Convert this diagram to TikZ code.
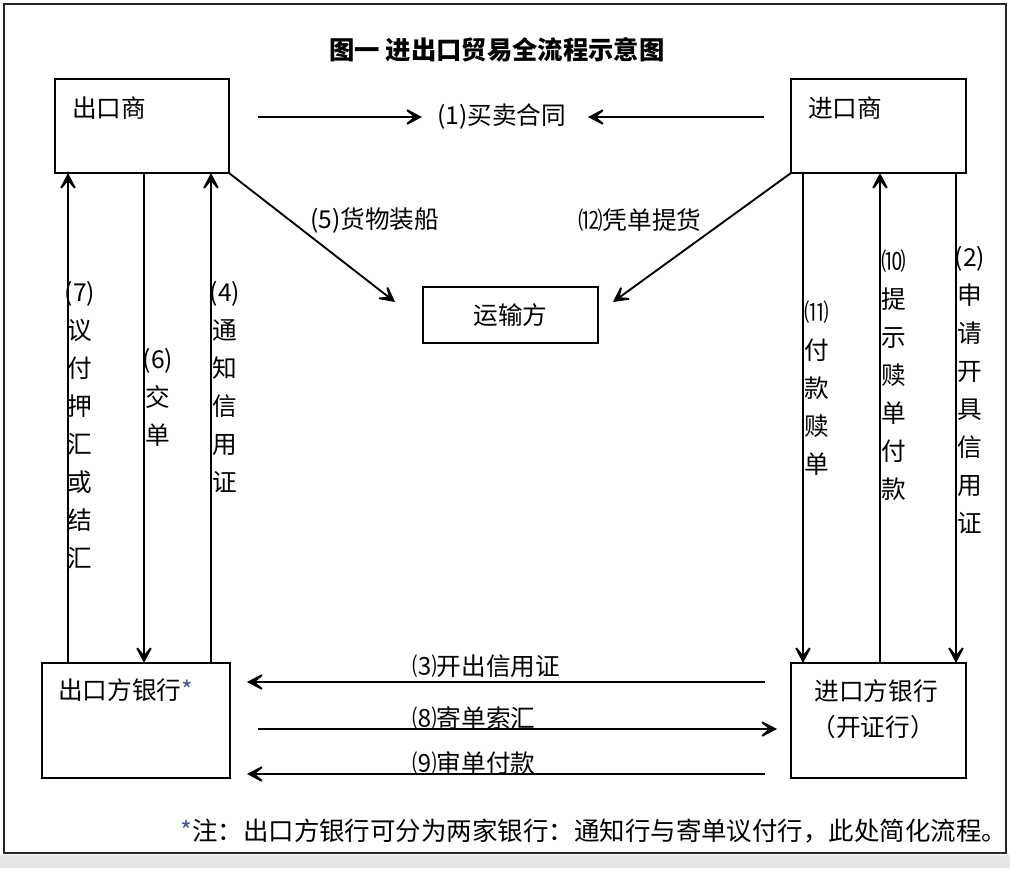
\documentclass[tikz,border=0pt]{standalone}
\usepackage{fontspec}
\setmainfont{Noto Sans CJK SC}
\usetikzlibrary{arrows.meta,calc}
\definecolor{astc}{RGB}{70,90,140}
\definecolor{band}{RGB}{230,228,228}
\begin{document}
\begin{tikzpicture}[x=0.75pt,y=-0.75pt,
  bx/.style={draw, line width=1.4pt, inner sep=0pt, outer sep=0pt},
  arr/.style={-{Stealth[length=17pt,width=18pt,inset=11pt]}, line width=1.4pt},
  lbl/.style={inner sep=0pt, font=\fontsize{18.5}{28.5}\selectfont},
  vlbl/.style={lbl, align=center, anchor=north},
  hlbl/.style={lbl, anchor=west}]
\useasboundingbox (0,0) rectangle (1010,868);
\fill[white] (0,0) rectangle (1010,868);
\fill[band] (0,855) rectangle (1010,868);
\draw[line width=1.4pt, black!85] (4,4) rectangle (1006,853);

% title
\node[inner sep=0pt, font=\fontsize{19}{22}\selectfont\bfseries] (title) at (497,50) {图一\ 进出口贸易全流程示意图};

% boxes
\node[bx, minimum width=130.5pt, minimum height=70.5pt] (exp) at (142,126) {};
\node[bx, minimum width=131.25pt, minimum height=70.5pt] (imp) at (878.5,126) {};
\node[bx, minimum width=131.25pt, minimum height=42pt] (trans) at (510.5,315) {};
\node[bx, minimum width=141pt, minimum height=86.25pt] (ebank) at (136,720.5) {};
\node[bx, minimum width=131.25pt, minimum height=86.25pt] (ibank) at (878.5,720.5) {};

% box texts
\node[hlbl] (texp) at (72,108) {出口商};
\node[hlbl] (timp) at (808,108) {进口商};
\node[lbl] (ttrans) at (trans.center) {运输方};
\node[hlbl] (teb) at (58,690) {出口方银行{\color{astc}*}};
\node[lbl] (tib1) at (876,691) {进口方银行};
\node[lbl] (tib2) at (873,727) {（开证行）};

% horizontal labels
\node[hlbl] (c1) at (437,117) {(1)买卖合同};
\node[hlbl] (l5) at (310,220) {(5)货物装船};
\node[hlbl] (l12) at (578,220) {⑿凭单提货};
\node[hlbl] (l3) at (412,666) {⑶开出信用证};
\node[hlbl] (l8) at (412,718) {⑻寄单索汇};
\node[hlbl] (l9) at (412,763) {⑼审单付款};

% vertical labels
\node[vlbl] (l7) at (80,281) {(7)\\议\\付\\押\\汇\\或\\结\\汇};
\node[vlbl] (l6) at (158,348) {(6)\\交\\单};
\node[vlbl] (l4) at (225,281) {(4)\\通\\知\\信\\用\\证};
\node[vlbl] (l11) at (817,301) {⑾\\付\\款\\赎\\单};
\node[vlbl] (l10) at (894,250) {⑽\\提\\示\\赎\\单\\付\\款};
\node[vlbl] (l2) at (970,246) {(2)\\申\\请\\开\\具\\信\\用\\证};

% coordinates
\coordinate (x7) at (68,0);
\coordinate (x6) at (144,0);
\coordinate (x4) at (211,0);
\coordinate (x11) at (803,0);
\coordinate (x10) at (880,0);
\coordinate (x2) at (956,0);
\coordinate (a1s) at (258,117);
\coordinate (a1t) at (422,117);
\coordinate (b1s) at (764,117);
\coordinate (b1t) at (588,117);
\coordinate (t5) at (395,302);
\coordinate (t12) at (613,302);
\coordinate (s3) at (765,682);
\coordinate (e3) at (247,682);
\coordinate (s8) at (258,729);
\coordinate (e8) at (777,729);
\coordinate (s9) at (765,774);
\coordinate (e9) at (247,774);

% connectors
\draw[arr] (a1s) -- (a1t);
\draw[arr] (b1s) -- (b1t);
\draw[arr] (exp.south east) -- (t5);
\draw[arr] (imp.south west) -- (t12);
\draw[arr] (ebank.north -| x7) -- (exp.south -| x7);
\draw[arr] (exp.south -| x6) -- (ebank.north -| x6);
\draw[arr] (ebank.north -| x4) -- (exp.south -| x4);
\draw[arr] (imp.south -| x11) -- (ibank.north -| x11);
\draw[arr] (ibank.north -| x10) -- (imp.south -| x10);
\draw[arr] (imp.south -| x2) -- (ibank.north -| x2);
\draw[arr] (s3) -- (e3);
\draw[arr] (s8) -- (e8);
\draw[arr] (s9) -- (e9);

% footnote
\node[lbl, anchor=west, font=\fontsize{19.1}{22}\selectfont] (note) at (180,831) {{\color{astc}*}注：出口方银行可分为两家银行：通知行与寄单议付行，此处简化流程。};
\end{tikzpicture}
\end{document}
